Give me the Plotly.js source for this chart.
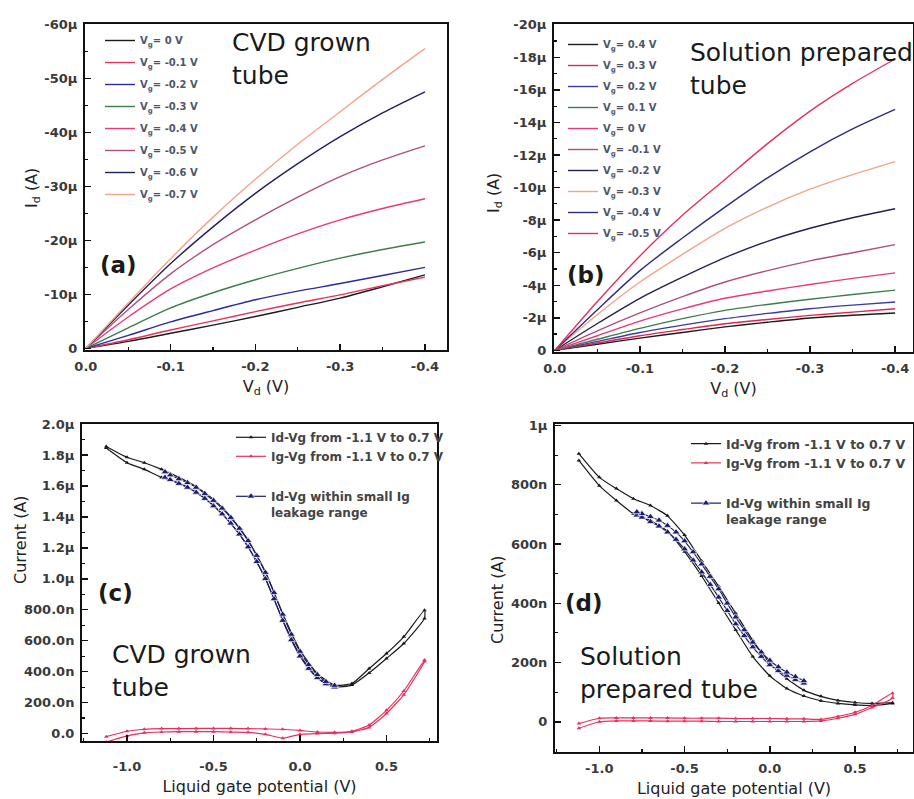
<!DOCTYPE html>
<html><head><meta charset="utf-8">
<script src="https://cdn.plot.ly/plotly-3.0.1.min.js"></script>
<style>html,body{margin:0;padding:0;background:#fff;}#chart{width:914px;height:799px;}</style>
</head><body><div id="chart"></div>
<script>
// ---------- Panel (a): CVD grown tube, Id-Vd (uA) ----------
const vdA = [0, -0.05, -0.1, -0.15, -0.2, -0.25, -0.3, -0.35, -0.4];
const labelsA = ['0 V', '-0.1 V', '-0.2 V', '-0.3 V', '-0.4 V', '-0.5 V', '-0.6 V', '-0.7 V'];
const idA_vg0   = [0, -1.3, -2.8, -4.3, -5.9, -7.6, -9.3, -11.4, -13.6];
const idA_vgm01 = [0, -1.6, -3.4, -5.1, -6.8, -8.4, -9.9, -11.6, -13.2];
const idA_vgm02 = [0, -2.4, -4.9, -7.0, -9.0, -10.6, -12.0, -13.5, -15.0];
const idA_vgm03 = [0, -3.8, -7.5, -10.3, -12.7, -14.8, -16.7, -18.3, -19.7];
const idA_vgm04 = [0, -5.8, -11.0, -14.9, -18.2, -21.2, -23.8, -25.9, -27.7];
const idA_vgm05 = [0, -7.2, -13.8, -19.2, -23.8, -28.0, -31.8, -34.9, -37.5];
const idA_vgm06 = [0, -8.0, -15.7, -22.5, -28.7, -34.2, -39.2, -43.6, -47.5];
const idA_vgm07 = [0, -8.4, -16.6, -24.3, -31.3, -37.8, -43.8, -49.8, -55.5];
const ytickA = [0, -10, -20, -30, -40, -50, -60];
const ytextA = ['0', '-10µ', '-20µ', '-30µ', '-40µ', '-50µ', '-60µ'];

// ---------- Panel (b): solution prepared tube, Id-Vd (uA) ----------
const vdB = [0, -0.05, -0.1, -0.15, -0.2, -0.25, -0.3, -0.35, -0.4];
const labelsB = ['0.4 V', '0.3 V', '0.2 V', '0.1 V', '0 V', '-0.1 V', '-0.2 V', '-0.3 V', '-0.4 V', '-0.5 V'];
const idB_vg04  = [0, -0.38, -0.75, -1.1, -1.44, -1.73, -1.99, -2.16, -2.3];
const idB_vg03  = [0, -0.45, -0.9, -1.28, -1.64, -1.9, -2.15, -2.35, -2.56];
const idB_vg02  = [0, -0.55, -1.1, -1.55, -1.95, -2.27, -2.56, -2.78, -2.97];
const idB_vg01  = [0, -0.68, -1.35, -1.95, -2.46, -2.82, -3.14, -3.43, -3.7];
const idB_vg0   = [0, -0.9, -1.8, -2.55, -3.2, -3.65, -4.05, -4.42, -4.76];
const idB_vgm01 = [0, -1.2, -2.3, -3.3, -4.2, -4.9, -5.5, -6.0, -6.5];
const idB_vgm02 = [0, -1.65, -3.2, -4.5, -5.7, -6.7, -7.5, -8.15, -8.7];
const idB_vgm03 = [0, -2.2, -4.2, -5.9, -7.5, -8.8, -9.9, -10.8, -11.6];
const idB_vgm04 = [0, -2.5, -4.9, -6.9, -8.8, -10.6, -12.2, -13.6, -14.8];
const idB_vgm05 = [0, -3.0, -5.8, -8.3, -10.5, -12.7, -14.7, -16.4, -17.9];
const ytickB = [0, -2, -4, -6, -8, -10, -12, -14, -16, -18, -20];
const ytextB = ['0', '-2µ', '-4µ', '-6µ', '-8µ', '-10µ', '-12µ', '-14µ', '-16µ', '-18µ', '-20µ'];
const xtickAB = [0, -0.1, -0.2, -0.3, -0.4];
const xtextAB = ['0.0', '-0.1', '-0.2', '-0.3', '-0.4'];

// ---------- Panel (c): CVD grown tube, current vs liquid gate (nA) ----------
const vgC = [-1.12, -1.0, -0.9, -0.8, -0.7, -0.6, -0.5, -0.4, -0.3, -0.2, -0.1, 0.0, 0.1, 0.2, 0.3, 0.4, 0.5, 0.6, 0.72];
const idC_up = [1855, 1785, 1750, 1707, 1655, 1595, 1513, 1400, 1250, 1045, 776, 539, 388, 313, 323, 420, 517, 625, 797];
const idC_dn = [1845, 1750, 1707, 1655, 1620, 1560, 1476, 1358, 1207, 1002, 733, 506, 362, 302, 313, 392, 485, 582, 744];
const igC_up = [-20, 15, 28, 32, 32, 33, 33, 33, 32, 30, 28, 20, 10, 8, 15, 55, 150, 275, 475];
const igC_dn = [-55, -15, 5, 10, 12, 12, 12, 10, 8, -5, -30, -5, 0, 2, 10, 40, 130, 250, 465];
const vgCs = [-0.78, -0.75, -0.70, -0.65, -0.60, -0.55, -0.50, -0.45, -0.40, -0.35, -0.30, -0.25, -0.20, -0.15, -0.10, -0.05, 0.00, 0.05, 0.10, 0.15, 0.20];
const idCs_up = [1690, 1670, 1645, 1620, 1590, 1550, 1505, 1455, 1395, 1325, 1245, 1150, 1040, 910, 770, 640, 530, 445, 380, 335, 310];
const idCs_dn = [1655, 1640, 1615, 1590, 1558, 1518, 1470, 1418, 1358, 1288, 1205, 1110, 1000, 870, 730, 605, 500, 420, 360, 320, 300];
const ytickC = [0, 200, 400, 600, 800, 1000, 1200, 1400, 1600, 1800, 2000];
const ytextC = ['0.0', '200.0n', '400.0n', '600.0n', '800.0n', '1.0µ', '1.2µ', '1.4µ', '1.6µ', '1.8µ', '2.0µ'];

// ---------- Panel (d): solution prepared tube (nA) ----------
const vgD = [-1.12, -1.0, -0.9, -0.8, -0.7, -0.6, -0.5, -0.4, -0.3, -0.2, -0.1, 0.0, 0.1, 0.2, 0.3, 0.4, 0.5, 0.6, 0.72];
const idD_up = [905, 825, 787, 753, 730, 695, 630, 543, 457, 366, 275, 198, 145, 106, 86, 72, 65, 62, 64];
const idD_dn = [882, 797, 747, 702, 679, 643, 574, 492, 401, 310, 220, 155, 112, 87, 71, 62, 57, 55, 62];
const igD_up = [-6, 12, 13, 13, 13, 13, 12, 12, 12, 11, 11, 11, 10, 10, 8, 18, 32, 55, 96];
const igD_dn = [-22, 0, 3, 3, 3, 2, 2, 2, 1, 1, 1, 1, 1, 1, 3, 12, 25, 48, 80];
const vgDs = [-0.78, -0.75, -0.70, -0.65, -0.60, -0.55, -0.50, -0.45, -0.40, -0.35, -0.30, -0.25, -0.20, -0.15, -0.10, -0.05, 0.00, 0.05, 0.10, 0.15, 0.20];
const idDs_up = [708, 702, 692, 680, 662, 640, 610, 573, 532, 490, 448, 400, 353, 310, 268, 235, 207, 185, 167, 152, 138];
const idDs_dn = [697, 690, 675, 660, 640, 615, 583, 545, 505, 463, 420, 375, 330, 290, 252, 220, 192, 172, 156, 142, 130];
const ytickD = [0, 200, 400, 600, 800, 1000];
const ytextD = ['0', '200n', '400n', '600n', '800n', '1µ'];
const xtickCD = [-1.0, -0.5, 0.0, 0.5];
const xtextCD = ['-1.0', '-0.5', '0.0', '0.5'];

const legendCD = ['Id-Vg from -1.1 V to 0.7 V', 'Ig-Vg from -1.1 V to 0.7 V', 'Id-Vg within small Ig<br>leakage range'];

// ---------- styling ----------
const FONT = 'DejaVu Sans';
const W = 914, H = 799;
const colorsA = ['#1c1c1c', '#e8335c', '#2b2ba0', '#3d7d4d', '#e83a78', '#b0507e', '#20205e', '#f2a488'];
const colorsB = ['#1c1c1c', '#e0244e', '#3a3aa8', '#3d7d4d', '#e83a78', '#b0507e', '#22224f', '#f2a488', '#2e2e7e', '#e6305a'];
const cBlack = '#1a1a1a', cRed = '#e8305c', cNavy = '#1c1c6e';

const loop = (xs, up, dn) => ({x: xs.concat(xs.slice().reverse()), y: dn.concat(up.slice().reverse())});

const traces = [];
const seriesA = [idA_vg0, idA_vgm01, idA_vgm02, idA_vgm03, idA_vgm04, idA_vgm05, idA_vgm06, idA_vgm07];
seriesA.forEach((s, i) => traces.push({
  type: 'scatter', mode: 'lines', x: vdA, y: s, xaxis: 'x', yaxis: 'y',
  name: 'V<sub>g</sub>= ' + labelsA[i], legend: 'legend', legendgroup: 'a' + i,
  line: {color: colorsA[i], width: 1.4, shape: 'spline', smoothing: 0.8}
}));
const seriesB = [idB_vg04, idB_vg03, idB_vg02, idB_vg01, idB_vg0, idB_vgm01, idB_vgm02, idB_vgm03, idB_vgm04, idB_vgm05];
seriesB.forEach((s, i) => traces.push({
  type: 'scatter', mode: 'lines', x: vdB, y: s, xaxis: 'x2', yaxis: 'y2',
  name: 'V<sub>g</sub>= ' + labelsB[i], legend: 'legend2', legendgroup: 'b' + i,
  line: {color: colorsB[i], width: 1.4, shape: 'spline', smoothing: 0.8}
}));

function iv(xs, up, dn, xa, ya, leg, name, color, grp, marker) {
  const l = loop(xs, up, dn);
  return {type: 'scatter', mode: 'lines+markers', x: l.x, y: l.y, xaxis: xa, yaxis: ya,
    name: name, legend: leg, legendgroup: grp,
    line: {color: color, width: 1.2, shape: 'spline', smoothing: 0.5},
    marker: marker};
}
const smallTri = c => ({symbol: 'triangle-up', size: 4, color: c});
const bandTri = {symbol: 'triangle-up', size: 7, color: cNavy, line: {color: '#ffffff', width: 0.7}};
traces.push(iv(vgC, idC_up, idC_dn, 'x3', 'y3', 'legend3', legendCD[0], cBlack, 'c1', smallTri(cBlack)));
traces.push(iv(vgC, igC_up, igC_dn, 'x3', 'y3', 'legend3', legendCD[1], cRed, 'c1', smallTri(cRed)));
traces.push(iv(vgCs, idCs_up, idCs_dn, 'x3', 'y3', 'legend3', legendCD[2], cNavy, 'c2', bandTri));
traces.push(iv(vgD, idD_up, idD_dn, 'x4', 'y4', 'legend4', legendCD[0], cBlack, 'd1', smallTri(cBlack)));
traces.push(iv(vgD, igD_up, igD_dn, 'x4', 'y4', 'legend4', legendCD[1], cRed, 'd1', smallTri(cRed)));
traces.push(iv(vgDs, idDs_up, idDs_dn, 'x4', 'y4', 'legend4', legendCD[2], cNavy, 'd2', bandTri));

const px = v => v / W, py = v => 1 - v / H;
const tickFont = {family: FONT, size: 13, weight: 'bold', color: '#3a3a3a'};
const titleFont = {family: FONT, size: 16, color: '#222'};

function axis(dom, range, tv, tt, minorDt, anchor, title, standoff, labelGap) {
  const a = {
    domain: dom, range: range, anchor: anchor, automargin: false,
    tickmode: 'array', tickvals: tv, ticktext: tt,
    ticks: 'inside', ticklen: 6, tickwidth: 1.5, tickcolor: '#111',
    minor: {tickmode: 'linear', tick0: 0, dtick: minorDt, ticks: 'inside', ticklen: 3, tickwidth: 1.2, tickcolor: '#111'},
    showline: true, mirror: true, linewidth: 2, linecolor: '#111',
    showgrid: false, zeroline: false, fixedrange: true,
    tickfont: tickFont, ticklabelstandoff: labelGap === undefined ? 3 : labelGap
  };
  if (title) a.title = {text: title, font: titleFont, standoff: standoff};
  return a;
}

const legendBase = {bgcolor: 'rgba(0,0,0,0)', borderwidth: 0, xanchor: 'left', yanchor: 'top',
  traceorder: 'grouped', itemclick: false, itemdoubleclick: false};

const ann = (text, x, y, size, extra) => Object.assign({text: text, x: px(x), y: py(y), xref: 'paper', yref: 'paper',
  xanchor: 'left', yanchor: 'top', align: 'left', showarrow: false,
  font: {family: FONT, size: size, color: '#1a1a1a'}}, extra || {});
const ytitle = (text, x, y) => ({text: text, x: px(x), y: py(y), xref: 'paper', yref: 'paper',
  xanchor: 'center', yanchor: 'middle', textangle: -90, showarrow: false, font: titleFont});

const layout = {
  width: W, height: H, margin: {l: 0, r: 0, t: 0, b: 0},
  paper_bgcolor: '#fff', plot_bgcolor: '#fff', showlegend: true,
  font: {family: FONT, color: '#222'},
  xaxis:  axis([px(85), px(447)], [0.001, -0.426], xtickAB, xtextAB, 0.05, 'y', 'V<sub>d</sub> (V)', 8),
  yaxis:  axis([py(350), py(24)], [0.3, -60.05], ytickA, ytextA, 5, 'x'),
  xaxis2: axis([px(554), px(913)], [0.001, -0.421], xtickAB, xtextAB, 0.05, 'y2', 'V<sub>d</sub> (V)', 8),
  yaxis2: axis([py(352), py(24)], [0.1, -20.05], ytickB, ytextB, 1, 'x2'),
  xaxis3: axis([px(82), px(437)], [-1.26, 0.792], xtickCD, xtextCD, 0.25, 'y3', 'Liquid gate potential (V)', 8, 12),
  yaxis3: axis([py(741), py(424)], [-48, 2000], ytickC, ytextC, 100, 'x3'),
  xaxis4: axis([px(555), px(913)], [-1.26, 0.84], xtickCD, xtextCD, 0.25, 'y4', 'Liquid gate potential (V)', 8),
  yaxis4: axis([py(752), py(424)], [-102, 1005], ytickD, ytextD, 100, 'x4'),
  legend:  Object.assign({}, legendBase, {x: px(100), y: py(26), tracegroupgap: 3,
           font: {family: FONT, size: 10, weight: 'bold', color: '#50566a'}}),
  legend2: Object.assign({}, legendBase, {x: px(563), y: py(30), tracegroupgap: 2,
           font: {family: FONT, size: 10, weight: 'bold', color: '#50566a'}}),
  legend3: Object.assign({}, legendBase, {x: px(231), y: py(423), tracegroupgap: 21, valign: 'top',
           font: {family: FONT, size: 12, weight: 'bold', color: '#444'}}),
  legend4: Object.assign({}, legendBase, {x: px(686), y: py(429), tracegroupgap: 21, valign: 'top',
           font: {family: FONT, size: 12.5, weight: 'bold', color: '#444'}}),
  annotations: [
    ytitle('I<sub>d</sub> (A)', 32, 188),
    ytitle('I<sub>d</sub> (A)', 494, 193),
    ytitle('Current (A)', 20, 540),
    ytitle('Current (A)', 497, 600),
    ann('CVD grown<br>tube', 230, 26, 25),
    ann('<b>(a)</b>', 98, 250, 23),
    ann('Solution prepared<br>tube', 688, 36, 25),
    ann('<b>(b)</b>', 565, 260, 23),
    ann('<b>(c)</b>', 96, 578, 23),
    ann('CVD grown<br>tube', 110, 638, 25),
    ann('<b>(d)</b>', 563, 588, 23),
    ann('Solution<br>prepared tube', 578, 640, 25)
  ]
};

Plotly.newPlot('chart', traces, layout, {staticPlot: true, displayModeBar: false});
</script></body></html>
